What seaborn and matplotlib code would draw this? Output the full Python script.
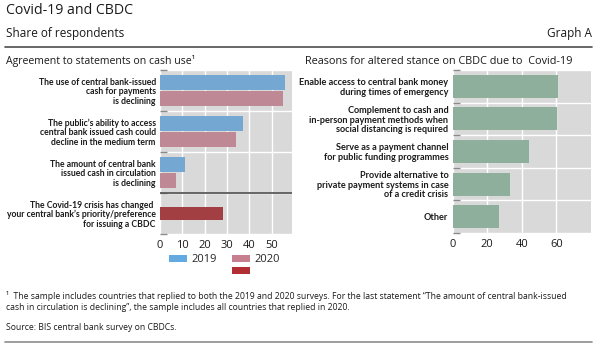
import matplotlib
matplotlib.use("Agg")
import matplotlib.pyplot as plt
from matplotlib import font_manager
from matplotlib.lines import Line2D
from matplotlib.patches import Patch
import pandas as pd
import seaborn as sns

# ---- data -------------------------------------------------------------
statements = [
    "The use of central bank-issued\ncash for payments\nis declining",
    "The public\u2019s ability to access\ncentral bank issued cash could\ndecline in the medium term",
    "The amount of central bank\nissued cash in circulation\nis declining",
    "The Covid-19 crisis has changed \nyour central bank\u2019s priority/preference\nfor issuing a CBDC",
]
years = ["2019", "2020"]
share_2019 = [56, 37, 11]
share_2020 = [55, 34, 7]
covid_changed = [28]

reasons = [
    "Enable access to central bank money\nduring times of emergency",
    "Complement to cash and\nin-person payment methods when\nsocial distancing is required",
    "Serve as a payment channel\nfor public funding programmes",
    "Provide alternative to\nprivate payment systems in case\nof a credit crisis",
    "Other",
]
reason_share = [61, 60.5, 44, 33, 27]

left_ticks = [0, 10, 20, 30, 40, 50]
right_ticks = [0, 20, 40, 60]

# ---- style ------------------------------------------------------------
sns.set_theme(style="white")
installed = {f.name for f in font_manager.fontManager.ttflist}
main_font = "Open Sans" if "Open Sans" in installed else "DejaVu Sans"
label_font = "Liberation Sans Narrow" if "Liberation Sans Narrow" in installed else "Lato"
plt.rcParams["font.family"] = [main_font, "DejaVu Sans"]

BLUE = "#64aae2"
PINK = "#c77f8f"
RED = "#b12f34"
GREEN = "#88b49b"
BG = "#d9d9d9"
TEXT = "#1a1a1a"

fig = plt.figure(figsize=(6.0, 3.48), dpi=100)
W, H = 600.0, 348.0


def axes_px(x0, y0, x1, y1):
    return fig.add_axes([x0 / W, 1 - y1 / H, (x1 - x0) / W, (y1 - y0) / H])


ax1 = axes_px(160, 70, 292, 234)
ax2 = axes_px(452.5, 70, 591, 233)

# ---- left panel: cash statements --------------------------------------
cash = pd.DataFrame({
    "statement": statements[:3] * 2,
    "year": [years[0]] * 3 + [years[1]] * 3,
    "share": share_2019 + share_2020,
})
sns.barplot(data=cash, x="share", y="statement", hue="year", order=statements,
            hue_order=years, palette=[BLUE, PINK], width=0.8, gap=0.1,
            orient="h", legend=False, linewidth=0, ax=ax1, zorder=3)

crisis = pd.DataFrame({"statement": statements[3:], "share": covid_changed})
sns.barplot(data=crisis, x="share", y="statement", order=statements,
            color=RED, width=0.33, orient="h", linewidth=0, ax=ax1, zorder=3)

ax1.set_xlim(0, 59)
ax1.set_ylim(3.5, -0.5)
ax1.set_xticks(left_ticks)
ax1.axhline(2.5, color="#5a5a5a", lw=1.3, zorder=4)

# ---- right panel: reasons ---------------------------------------------
reasons_df = pd.DataFrame({"reason": reasons, "share": reason_share})
sns.barplot(data=reasons_df, x="share", y="reason", order=reasons,
            color=GREEN, width=0.7, orient="h", linewidth=0, ax=ax2, zorder=3)
ax2.set_xlim(0, 80)
ax2.set_ylim(4.5, -0.5)
ax2.set_xticks(right_ticks)

# ---- shared axis styling ----------------------------------------------
for ax, n, fs in ((ax1, len(statements), 6.25), (ax2, len(reasons), 6.6)):
    ax.set_facecolor(BG)
    for s in ax.spines.values():
        s.set_visible(False)
    ax.set_xlabel("")
    ax.set_ylabel("")
    ax.set_yticks([i + 0.5 for i in range(-1, n)], minor=True)
    ax.grid(True, axis="x", which="major", color="white", lw=1.0, zorder=1)
    ax.grid(True, axis="y", which="minor", color="white", lw=1.0, zorder=1)
    ax.set_axisbelow(True)
    ax.tick_params(axis="y", which="major", length=0, pad=3)
    ax.tick_params(axis="y", which="minor", length=5, width=1.0,
                   direction="in", color="#8a8a8a", left=True)
    ax.tick_params(axis="x", length=0, pad=4, labelsize=8, labelcolor=TEXT)
    for lab in ax.get_yticklabels():
        lab.set_fontfamily([label_font, "DejaVu Sans"])
        lab.set_fontweight("bold")
        lab.set_fontsize(fs)
        lab.set_color(TEXT)
        lab.set_horizontalalignment("right")
        lab.set_multialignment("right")
        lab.set_linespacing(1.08)

# ---- legend ------------------------------------------------------------
handles = [
    Patch(facecolor=BLUE, edgecolor="none", label="2019"),
    Patch(facecolor="none", edgecolor="none", label=""),
    Patch(facecolor=PINK, edgecolor="none", label="2020"),
    Patch(facecolor=RED, edgecolor="none", label=""),
]
fig.legend(handles=handles, ncol=2, loc="upper left",
           bbox_to_anchor=(169 / W, 1 - 254 / H), frameon=False, fontsize=8,
           handlelength=1.6, handleheight=0.6, handletextpad=0.4,
           columnspacing=1.4, labelspacing=0.12, borderpad=0,
           borderaxespad=0)

# ---- titles, notes and rules -------------------------------------------
def ftext(x, y, s, **kw):
    kw.setdefault("color", TEXT)
    kw.setdefault("va", "center")
    fig.text(x / W, 1 - y / H, s, **kw)


ftext(6, 10, "Covid-19 and CBDC", fontsize=10.2)
ftext(6, 33, "Share of respondents", fontsize=8.5)
ftext(592, 33, "Graph A", fontsize=8.5, ha="right")
ftext(6, 61, "Agreement to statements on cash use\u00b9", fontsize=7.6)
ftext(305, 61, "Reasons for altered stance on CBDC due to  Covid-19", fontsize=7.8)

ftext(6, 296, "\u00b9  The sample includes countries that replied to both the 2019 and 2020 surveys. "
      "For the last statement \u201cThe amount of central bank-issued", fontsize=6.25)
ftext(6, 308, "cash in circulation is declining\u201d, the sample includes all countries that replied in 2020.",
      fontsize=6.25)
ftext(6, 328, "Source: BIS central bank survey on CBDCs.", fontsize=6.25)

fig.add_artist(Line2D([5 / W, 592 / W], [1 - 47 / H] * 2, transform=fig.transFigure,
                      color="#4d4d4d", lw=1.2))
fig.add_artist(Line2D([5 / W, 592 / W], [1 - 342 / H] * 2, transform=fig.transFigure,
                      color="#8c8c8c", lw=1.2))

fig.savefig("out.png", dpi=100, facecolor="white")
